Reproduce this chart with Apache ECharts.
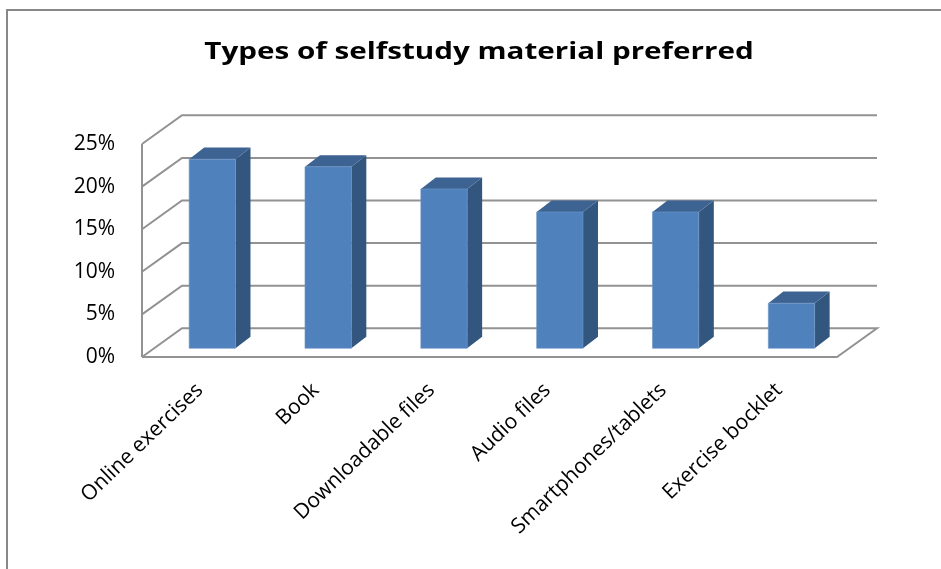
<!DOCTYPE html>
<html lang="en">
<head>
    <meta charset="utf-8">
    <title>Types of selfstudy material preferred</title>
    <style>
        html, body { margin: 0; padding: 0; background: #fff; }
        #chart { width: 941px; height: 569px; }
    </style>
</head>
<body>
<div id="chart"></div>
<script src="https://cdn.jsdelivr.net/npm/echarts@6.0.0/dist/echarts.min.js"></script>
<script type="text/javascript">

// data
var categories = ['Online exercises', 'Book', 'Downloadable files', 'Audio files', 'Smartphones/tablets', 'Exercise bocklet'];
var shares = [0.222, 0.213, 0.187, 0.160, 0.160, 0.053];
var yTicks = [0, 0.05, 0.10, 0.15, 0.20, 0.25];

// fake 3d: offset of back wall, and of the bars front/back faces
var DEPTH = [40, -28.7];
var BAR_FRONT = [12.4, -8.7];
var BAR_BACK = [27.4, -20.3];
var FONT = '"Open Sans", sans-serif';

function wallItem(params, api) {
    var cs = params.coordSys;
    var x0 = cs.x, x1 = cs.x + cs.width;
    var lineStyle = { stroke: '#929292', lineWidth: 2, fill: null };
    var children = [];
    // gridlines: left wall diagonal + back wall horizontal
    yTicks.forEach(function (t) {
        var y = api.coord([0, t])[1];
        var pts = [[x0, y], [x0 + DEPTH[0], y + DEPTH[1]], [x1 + DEPTH[0], y + DEPTH[1]]];
        if (t === 0) {
            // floor outline
            pts = [[x0, y], [x0 + DEPTH[0], y + DEPTH[1]], [x1 + DEPTH[0], y + DEPTH[1]], [x1, y], [x0, y]];
        }
        children.push({ type: 'polyline', shape: { points: pts }, style: lineStyle });
    });
    // left wall front edge
    var yb = api.coord([0, yTicks[0]])[1];
    var yt = api.coord([0, yTicks[yTicks.length - 1]])[1];
    children.push({ type: 'line', shape: { x1: x0, y1: yb, x2: x0, y2: yt }, style: lineStyle });
    return { type: 'group', children: children };
}

function barItem(params, api) {
    var idx = api.value(0);
    var top = api.coord([idx, api.value(1)]);
    var base = api.coord([idx, 0]);
    var w = api.size([1, 0])[0] * 0.4;
    var xa = top[0] - w / 2 + BAR_FRONT[0];
    var xb = xa + w;
    var ya = top[1] + BAR_FRONT[1];
    var yb = base[1] + BAR_FRONT[1];
    var dx = BAR_BACK[0] - BAR_FRONT[0];
    var dy = BAR_BACK[1] - BAR_FRONT[1];
    return {
        type: 'group',
        children: [
            { type: 'polygon', shape: { points: [[xb, ya], [xb + dx, ya + dy], [xb + dx, yb + dy], [xb, yb]] },
              style: { fill: '#33567f' } },
            { type: 'polygon', shape: { points: [[xa, ya], [xb, ya], [xb + dx, ya + dy], [xa + dx, ya + dy]] },
              style: { fill: '#3d6392' } },
            { type: 'rect', shape: { x: xa, y: ya, width: w, height: yb - ya },
              style: { fill: '#4f81bd', stroke: '#6b95c8', lineWidth: 0.6 } }
        ]
    };
}

var chart = echarts.init(document.getElementById('chart'));
var option = {
    animation: false,
    graphic: [{
        type: 'rect',
        shape: { x: 7, y: 10, width: 1000, height: 700 },
        style: { fill: null, stroke: '#888', lineWidth: 2 },
        z: -1
    }, {
        // title, a little wider than the font to match the source
        type: 'text',
        x: 479,
        y: 52,
        scaleX: 1.26,
        style: {
            text: 'Types of selfstudy material preferred',
            fontFamily: FONT,
            fontSize: 23.5,
            fontWeight: 'bold',
            fill: '#000',
            align: 'center',
            verticalAlign: 'middle'
        }
    }],
    grid: { left: 142, right: 104, top: 144, bottom: 212 },
    xAxis: {
        type: 'category',
        data: categories,
        axisLine: { show: false },
        axisTick: { show: false },
        axisLabel: {
            rotate: 44,
            margin: 30,
            interval: 0,
            fontFamily: FONT,
            fontSize: 21,
            color: '#000'
        }
    },
    yAxis: {
        type: 'value',
        min: 0,
        max: 0.25,
        interval: 0.05,
        axisLine: { show: false },
        axisTick: { show: false },
        splitLine: { show: false },
        axisLabel: {
            margin: 27,
            fontFamily: FONT,
            fontSize: 21,
            color: '#000',
            formatter: function (v) { return Math.round(v * 100) + '%'; }
        }
    },
    series: [{
        type: 'custom',
        renderItem: wallItem,
        data: [[0, 0]],
        silent: true,
        z: 1
    }, {
        type: 'custom',
        renderItem: barItem,
        data: shares.map(function (v, i) { return [i, v]; }),
        z: 2
    }]
};
chart.setOption(option);

</script>
</body>
</html>
